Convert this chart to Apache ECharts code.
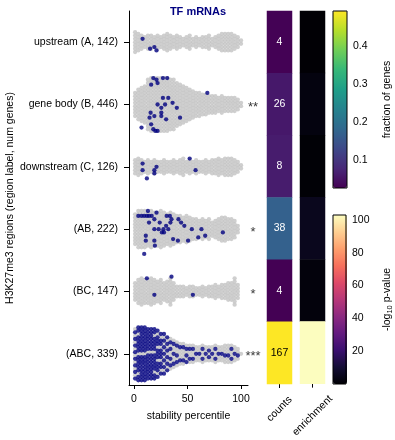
<!DOCTYPE html>
<html>
<head>
<meta charset="utf-8">
<script src="https://cdn.jsdelivr.net/npm/echarts@6/dist/echarts.min.js"></script>
<style>
  html, body { margin: 0; padding: 0; background: #fff; }
  #chart { width: 395px; height: 440px; }
</style>
</head>
<body>
<div id="chart"></div>
<script>
// region rows, top to bottom
const regions = ["upstream (A, 142)", "gene body (B, 446)", "downstream (C, 126)", "(AB, 222)", "(BC, 147)", "(ABC, 339)"];
const numGenes = [142, 446, 126, 222, 147, 339];
const tfCounts = [4, 26, 8, 38, 4, 167];
const enrichment = [0.3, 2.2, 0.5, 5.2, 1.6, 103];
const stars = ["", "**", "", "*", "*", "***"];
const heatCols = ["counts", "enrichment"];
const xTicks = [0, 50, 100];
const fracTicks = [0.1, 0.2, 0.3, 0.4];
const pvalTicks = [20, 40, 60, 80, 100];

// swarm columns: stability percentile of each column and how many genes stack in it
const columnPct = [1, 4, 7, 10, 13, 16, 19, 22, 25, 28, 31, 34, 37, 40, 43, 46, 49, 52, 55, 58, 61, 64, 67, 70, 73, 76, 79, 82, 85, 88, 91, 94, 97, 100];
const upstreamCols = [7, 6, 5, 4, 5, 5, 4, 5, 4, 5, 6, 5, 4, 5, 4, 3, 4, 5, 3, 4, 3, 4, 4, 5, 3, 4, 5, 6, 6, 6, 6, 5, 4, 2];
const geneBodyCols = [8, 10, 11, 12, 16, 17, 17, 17, 17, 17, 17, 16, 16, 14, 13, 12, 11, 10, 9, 8, 8, 7, 7, 6, 6, 6, 5, 6, 5, 5, 5, 5, 4, 2];
const downstreamCols = [5, 6, 5, 4, 5, 4, 5, 4, 4, 5, 4, 4, 5, 4, 5, 6, 4, 5, 4, 5, 4, 4, 5, 4, 5, 5, 6, 5, 6, 6, 6, 5, 4, 2];
const abCols = [10, 12, 12, 12, 11, 12, 11, 11, 12, 11, 10, 11, 10, 9, 9, 8, 9, 8, 7, 7, 6, 7, 6, 7, 5, 6, 7, 8, 8, 7, 7, 6, 3, 0];
const bcCols = [6, 8, 9, 8, 8, 9, 8, 7, 8, 6, 7, 9, 6, 4, 4, 4, 3, 4, 4, 3, 3, 4, 3, 4, 4, 5, 4, 5, 5, 6, 6, 9, 5, 0];
const abcCols = [16, 17, 17, 17, 16, 16, 16, 15, 13, 13, 11, 10, 9, 8, 7, 7, 6, 6, 6, 5, 5, 6, 5, 5, 5, 6, 5, 5, 6, 6, 6, 5, 4, 1];
const abcTfCols = [8, 14, 16, 16, 15, 15, 13, 11, 9, 7, 6, 4, 3, 3, 2, 2, 3, 2, 2, 1, 1, 2, 1, 2, 1, 2, 1, 1, 1, 1, 2, 1, 1, 0];

// TF genes as [percentile, stack slot from row centre]
const upstreamTf = [[8, -1], [15, 2], [19, 1.5], [21, 2.5]];
const geneBodyTf = [[18, -8], [21, -7.5], [27, -8], [31, -8], [16, -6], [22, -6.5], [68.5, -3.5], [27, -2], [32, -2], [22, 0],
  [29, 0], [36, -0.5], [25.5, 1], [40, 1], [15.5, 2.5], [25.5, 2.5], [19, 3.5], [25.5, 3.5], [30, 4.5], [43, 4],
  [14.5, 4], [7, 7], [16, 6], [18, 7.5], [20, 8], [22, 8]];
const downstreamTf = [[8, -1], [8, 1], [12, 3.5], [19, 1], [21, 0], [19, 2], [52, -2.5], [57.5, 1]];
const abTf = [[4, -4], [7, -4], [9.5, -4], [12, -4], [14, -4], [16.5, -4], [13, -5.5], [21, -5], [19, -3], [24, -2],
  [30.5, -4], [33.5, -4], [35, -3], [34, -2], [41.5, -3], [44, -2], [19, 0], [23, 0], [26, 1], [27.5, 0],
  [32, 0], [30, -1], [54, 0], [63, 0], [60, 2.5], [66.5, 2], [83, 1], [50.5, 3.5], [41, 3.5], [36.5, 3],
  [11, 2], [11, 3.5], [19, 3.5], [19.5, 5], [9.5, 7.5], [28, 1], [14, -2], [47, -1]];
const bcTf = [[12, -4], [35, -4.5], [19, 1], [55, 1]];

const columns = [upstreamCols, geneBodyCols, downstreamCols, abCols, bcCols, abcCols];
const tfPoints = [upstreamTf, geneBodyTf, downstreamTf, abTf, bcTf];

const VIRIDIS = ["#440154", "#482878", "#3e4989", "#31688e", "#26828e", "#1f9e89", "#35b779", "#6ece58", "#b5de2b", "#fde725"];
const MAGMA = ["#000004", "#140e36", "#3b0f70", "#641a80", "#8c2981", "#b73779", "#de4968", "#f7705c", "#fe9f6d", "#fecf92", "#fcfdbf"];
const FONT = "'Liberation Sans', Arial, sans-serif";
const SLOT = 3.3 / 62.3; // one dot step in row units

const fraction = tfCounts.map((c, i) => c / numGenes[i]);
const fracMin = Math.min(...fraction), fracMax = Math.max(...fraction);

const greyData = [], navyData = [];
columns.forEach((cols, row) => {
  cols.forEach((n, c) => {
    const tfIdx = new Set();
    if (row === 5) {
      const m = abcTfCols[c];
      for (let k = 0; k < m; k++) tfIdx.add(Math.floor((k + 0.5) * n / m));
    }
    for (let i = 0; i < n; i++) {
      const pt = [columnPct[c], row + 0.5 + (i - (n - 1) / 2) * SLOT];
      (tfIdx.has(i) ? navyData : greyData).push(pt);
    }
  });
});
tfPoints.forEach((pts, row) => pts.forEach(([p, s]) => navyData.push([p, row + 0.5 + s * SLOT])));

const lbl = { color: "#000", fontSize: 10.5, fontFamily: FONT };
const axLine = { show: true, onZero: false, lineStyle: { color: "#000", width: 1 } };
const axTick = { show: true, length: 4, lineStyle: { color: "#000" } };

const chart = echarts.init(document.getElementById("chart"));
chart.setOption({
  animation: false,
  textStyle: { fontFamily: FONT },
  title: {
    text: "TF mRNAs", left: 193, top: 1, textAlign: "center",
    textStyle: { color: "#000080", fontSize: 11, fontWeight: "bold", fontFamily: FONT }
  },
  grid: [
    { left: 129, top: 11, width: 119, height: 374 },
    { left: 267, top: 11, width: 25, height: 373 },
    { left: 300, top: 11, width: 25, height: 373 },
    { left: 333, top: 11, width: 14, height: 177, show: true, borderColor: "#000", borderWidth: 1, backgroundColor: "transparent", z: 10 },
    { left: 333, top: 215, width: 14, height: 169, show: true, borderColor: "#000", borderWidth: 1, backgroundColor: "transparent", z: 10 }
  ],
  xAxis: [
    {
      gridIndex: 0, type: "value", min: -4.7, max: 106.5,
      axisLine: axLine, splitLine: { show: false },
      axisTick: Object.assign({ customValues: xTicks }, axTick),
      axisLabel: Object.assign({ customValues: xTicks, margin: 9 }, lbl),
      name: "stability percentile", nameLocation: "middle", nameGap: 26, nameTextStyle: lbl
    },
    {
      gridIndex: 1, type: "category", data: [heatCols[0]],
      axisLine: { show: false }, axisTick: Object.assign({ alignWithLabel: true }, axTick),
      axisLabel: Object.assign({ rotate: 45, margin: 25, align: "center", verticalAlign: "middle" }, lbl)
    },
    {
      gridIndex: 2, type: "category", data: [heatCols[1]],
      axisLine: { show: false }, axisTick: Object.assign({ alignWithLabel: true }, axTick),
      axisLabel: Object.assign({ rotate: 45, margin: 32, align: "center", verticalAlign: "middle" }, lbl)
    },
    { gridIndex: 3, type: "value", show: false },
    { gridIndex: 4, type: "value", show: false }
  ],
  yAxis: [
    {
      gridIndex: 0, type: "category", data: regions, inverse: true,
      axisLine: axLine, axisTick: Object.assign({ alignWithLabel: true }, axTick, { length: 5 }),
      axisLabel: Object.assign({ margin: 11 }, lbl),
      name: "H3K27me3 regions (region label, num genes)", nameLocation: "middle", nameGap: 112, nameRotate: 90,
      nameTextStyle: lbl
    },
    { gridIndex: 0, type: "value", min: 0, max: 6, inverse: true, show: false },
    { gridIndex: 1, type: "category", data: regions, inverse: true, show: false },
    { gridIndex: 2, type: "category", data: regions, inverse: true, show: false },
    {
      gridIndex: 3, type: "value", position: "right", min: fracMin, max: fracMax,
      axisLine: { show: false }, splitLine: { show: false },
      axisTick: Object.assign({ customValues: fracTicks }, axTick),
      axisLabel: Object.assign({ customValues: fracTicks, margin: 6, formatter: v => v.toFixed(1) }, lbl),
      name: "fraction of genes", nameLocation: "middle", nameRotate: 90, nameGap: 35, nameTextStyle: lbl
    },
    {
      gridIndex: 4, type: "value", position: "right", min: 0, max: 103,
      axisLine: { show: false }, splitLine: { show: false },
      axisTick: Object.assign({ customValues: pvalTicks }, axTick),
      axisLabel: Object.assign({ customValues: pvalTicks, margin: 6 }, lbl),
      name: "-log{sub|10} p-value", nameLocation: "middle", nameRotate: 90, nameGap: 35,
      nameTextStyle: Object.assign({ rich: { sub: { fontSize: 7.5, fontFamily: FONT, color: "#000", padding: [5, 0, 0, 0] } } }, lbl)
    }
  ],
  visualMap: [
    {
      type: "continuous", seriesIndex: 3, min: fracMin, max: fracMax, calculable: false,
      orient: "vertical", left: 333, top: 11, itemWidth: 14, itemHeight: 177, padding: 0,
      inRange: { color: VIRIDIS }, z: 2
    },
    {
      type: "continuous", seriesIndex: 4, min: 0, max: 103, calculable: false,
      orient: "vertical", left: 333, top: 215, itemWidth: 14, itemHeight: 169, padding: 0,
      inRange: { color: MAGMA }, z: 2
    }
  ],
  series: [
    {
      type: "scatter", xAxisIndex: 0, yAxisIndex: 1, symbolSize: 4.3, silent: true,
      itemStyle: { color: "#c3c3c3" }, data: greyData
    },
    {
      type: "scatter", xAxisIndex: 0, yAxisIndex: 1, symbolSize: 4.3, silent: true,
      itemStyle: { color: "#000080" }, data: navyData
    },
    {
      type: "scatter", xAxisIndex: 0, yAxisIndex: 1, symbolSize: 0, clip: false, silent: true,
      data: stars.map((s, i) => [111.2, i + 0.5, s]),
      label: {
        show: true, position: "inside", offset: [0, 3], formatter: p => p.value[2],
        color: "#000", fontSize: 13, fontFamily: FONT
      }
    },
    {
      type: "heatmap", xAxisIndex: 1, yAxisIndex: 2, silent: true,
      data: fraction.map((f, i) => ({ value: [0, i, f], label: { color: f > 0.35 ? "#000" : "#fff" } })),
      label: { show: true, formatter: p => String(tfCounts[p.value[1]]), fontSize: 10.5, fontFamily: FONT }
    },
    {
      type: "heatmap", xAxisIndex: 2, yAxisIndex: 3, silent: true,
      data: enrichment.map((e, i) => [0, i, e])
    }
  ]
});
</script>
</body>
</html>
